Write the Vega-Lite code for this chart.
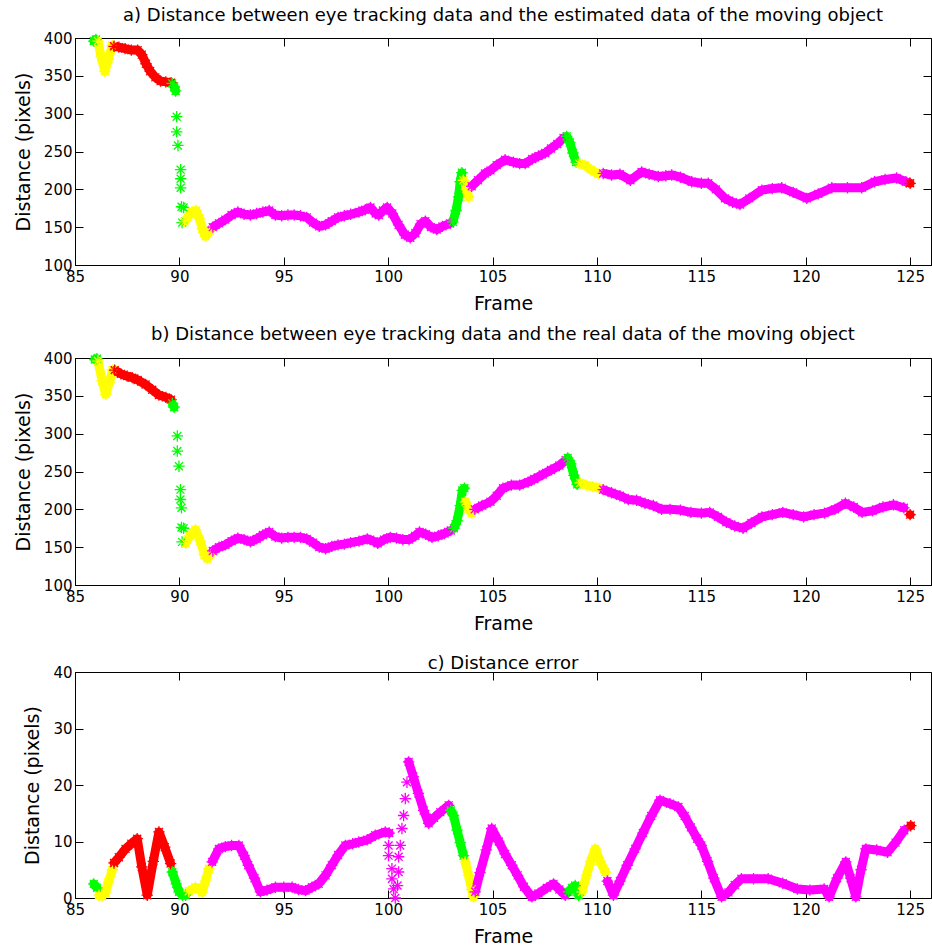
{
  "$schema": "https://vega.github.io/schema/vega-lite/v6.json",
  "background": "white",
  "padding": {"left": 13, "top": 6, "right": 0, "bottom": 0},
  "spacing": 20,
  "datasets": {
    "estimated": [
      {"frame": 85.9, "dist": 396, "state": "G", "run": 1},
      {"frame": 86.0, "dist": 398, "state": "G", "run": 1},
      {"frame": 86.1, "dist": 396, "state": "Y", "run": 2},
      {"frame": 86.25, "dist": 375, "state": "Y", "run": 2},
      {"frame": 86.43, "dist": 356, "state": "Y", "run": 2},
      {"frame": 86.6, "dist": 372, "state": "Y", "run": 2},
      {"frame": 86.78, "dist": 390, "state": "Y", "run": 2},
      {"frame": 86.87, "dist": 389, "state": "R", "run": 3},
      {"frame": 87.1, "dist": 388, "state": "R", "run": 3},
      {"frame": 87.4, "dist": 386, "state": "R", "run": 3},
      {"frame": 87.7, "dist": 384, "state": "R", "run": 3},
      {"frame": 88.0, "dist": 384, "state": "R", "run": 3},
      {"frame": 88.2, "dist": 378, "state": "R", "run": 3},
      {"frame": 88.4, "dist": 366, "state": "R", "run": 3},
      {"frame": 88.6, "dist": 356, "state": "R", "run": 3},
      {"frame": 88.85, "dist": 348, "state": "R", "run": 3},
      {"frame": 89.1, "dist": 343, "state": "R", "run": 3},
      {"frame": 89.35, "dist": 342, "state": "R", "run": 3},
      {"frame": 89.6, "dist": 341, "state": "R", "run": 3},
      {"frame": 89.65, "dist": 340, "state": "G", "run": 4},
      {"frame": 89.75, "dist": 336, "state": "G", "run": 4},
      {"frame": 89.82, "dist": 330, "state": "G", "run": 4},
      {"frame": 89.87, "dist": 296, "state": "G", "run": 0},
      {"frame": 89.87, "dist": 276, "state": "G", "run": 0},
      {"frame": 89.93, "dist": 258, "state": "G", "run": 0},
      {"frame": 90.06, "dist": 226, "state": "G", "run": 0},
      {"frame": 90.06, "dist": 214, "state": "G", "run": 0},
      {"frame": 90.06, "dist": 202, "state": "G", "run": 0},
      {"frame": 90.1, "dist": 177, "state": "G", "run": 0},
      {"frame": 90.2, "dist": 176, "state": "G", "run": 0},
      {"frame": 90.13, "dist": 156, "state": "G", "run": 0},
      {"frame": 90.25, "dist": 157, "state": "Y", "run": 5},
      {"frame": 90.4, "dist": 163, "state": "Y", "run": 5},
      {"frame": 90.6, "dist": 170, "state": "Y", "run": 5},
      {"frame": 90.8, "dist": 172, "state": "Y", "run": 5},
      {"frame": 90.95, "dist": 162, "state": "Y", "run": 5},
      {"frame": 91.1, "dist": 148, "state": "Y", "run": 5},
      {"frame": 91.25, "dist": 138, "state": "Y", "run": 5},
      {"frame": 91.45, "dist": 145, "state": "Y", "run": 5},
      {"frame": 91.6, "dist": 150, "state": "M", "run": 6},
      {"frame": 91.9, "dist": 155, "state": "M", "run": 6},
      {"frame": 92.2, "dist": 160, "state": "M", "run": 6},
      {"frame": 92.5, "dist": 166, "state": "M", "run": 6},
      {"frame": 92.8, "dist": 170, "state": "M", "run": 6},
      {"frame": 93.1, "dist": 167, "state": "M", "run": 6},
      {"frame": 93.4, "dist": 166, "state": "M", "run": 6},
      {"frame": 93.7, "dist": 168, "state": "M", "run": 6},
      {"frame": 94.0, "dist": 170, "state": "M", "run": 6},
      {"frame": 94.3, "dist": 172, "state": "M", "run": 6},
      {"frame": 94.6, "dist": 166, "state": "M", "run": 6},
      {"frame": 94.9, "dist": 165, "state": "M", "run": 6},
      {"frame": 95.2, "dist": 166, "state": "M", "run": 6},
      {"frame": 95.5, "dist": 166, "state": "M", "run": 6},
      {"frame": 95.8, "dist": 165, "state": "M", "run": 6},
      {"frame": 96.1, "dist": 163, "state": "M", "run": 6},
      {"frame": 96.4, "dist": 156, "state": "M", "run": 6},
      {"frame": 96.7, "dist": 151, "state": "M", "run": 6},
      {"frame": 97.0, "dist": 153, "state": "M", "run": 6},
      {"frame": 97.3, "dist": 158, "state": "M", "run": 6},
      {"frame": 97.6, "dist": 163, "state": "M", "run": 6},
      {"frame": 97.9, "dist": 165, "state": "M", "run": 6},
      {"frame": 98.2, "dist": 167, "state": "M", "run": 6},
      {"frame": 98.6, "dist": 170, "state": "M", "run": 6},
      {"frame": 98.9, "dist": 173, "state": "M", "run": 6},
      {"frame": 99.15, "dist": 176, "state": "M", "run": 6},
      {"frame": 99.4, "dist": 168, "state": "M", "run": 6},
      {"frame": 99.55, "dist": 166, "state": "M", "run": 6},
      {"frame": 99.75, "dist": 172, "state": "M", "run": 6},
      {"frame": 99.95, "dist": 176, "state": "M", "run": 6},
      {"frame": 100.2, "dist": 168, "state": "M", "run": 6},
      {"frame": 100.5, "dist": 153, "state": "M", "run": 6},
      {"frame": 100.8, "dist": 140, "state": "M", "run": 6},
      {"frame": 101.06, "dist": 136, "state": "M", "run": 6},
      {"frame": 101.3, "dist": 142, "state": "M", "run": 6},
      {"frame": 101.55, "dist": 154, "state": "M", "run": 6},
      {"frame": 101.78, "dist": 158, "state": "M", "run": 6},
      {"frame": 102.05, "dist": 150, "state": "M", "run": 6},
      {"frame": 102.33, "dist": 147, "state": "M", "run": 6},
      {"frame": 102.6, "dist": 151, "state": "M", "run": 6},
      {"frame": 102.97, "dist": 155, "state": "M", "run": 6},
      {"frame": 103.1, "dist": 157, "state": "G", "run": 7},
      {"frame": 103.25, "dist": 172, "state": "G", "run": 7},
      {"frame": 103.37, "dist": 190, "state": "G", "run": 7},
      {"frame": 103.45, "dist": 210, "state": "G", "run": 7},
      {"frame": 103.53, "dist": 222, "state": "G", "run": 7},
      {"frame": 103.6, "dist": 212, "state": "Y", "run": 8},
      {"frame": 103.75, "dist": 200, "state": "Y", "run": 8},
      {"frame": 103.85, "dist": 190, "state": "Y", "run": 8},
      {"frame": 104.0, "dist": 204, "state": "M", "run": 9},
      {"frame": 104.3, "dist": 212, "state": "M", "run": 9},
      {"frame": 104.64, "dist": 221, "state": "M", "run": 9},
      {"frame": 104.9, "dist": 225, "state": "M", "run": 9},
      {"frame": 105.2, "dist": 232, "state": "M", "run": 9},
      {"frame": 105.6, "dist": 239, "state": "M", "run": 9},
      {"frame": 106.0, "dist": 236, "state": "M", "run": 9},
      {"frame": 106.3, "dist": 234, "state": "M", "run": 9},
      {"frame": 106.56, "dist": 234, "state": "M", "run": 9},
      {"frame": 106.9, "dist": 240, "state": "M", "run": 9},
      {"frame": 107.2, "dist": 244, "state": "M", "run": 9},
      {"frame": 107.52, "dist": 248, "state": "M", "run": 9},
      {"frame": 107.8, "dist": 254, "state": "M", "run": 9},
      {"frame": 108.1, "dist": 260, "state": "M", "run": 9},
      {"frame": 108.4, "dist": 268, "state": "M", "run": 9},
      {"frame": 108.55, "dist": 270, "state": "G", "run": 10},
      {"frame": 108.7, "dist": 262, "state": "G", "run": 10},
      {"frame": 108.85, "dist": 248, "state": "G", "run": 10},
      {"frame": 109.0, "dist": 236, "state": "G", "run": 10},
      {"frame": 109.15, "dist": 234, "state": "Y", "run": 11},
      {"frame": 109.43, "dist": 232, "state": "Y", "run": 11},
      {"frame": 109.7, "dist": 226, "state": "Y", "run": 11},
      {"frame": 110.07, "dist": 220, "state": "Y", "run": 11},
      {"frame": 110.3, "dist": 221, "state": "M", "run": 12},
      {"frame": 110.7, "dist": 219, "state": "M", "run": 12},
      {"frame": 111.1, "dist": 220, "state": "M", "run": 12},
      {"frame": 111.6, "dist": 212, "state": "M", "run": 12},
      {"frame": 112.14, "dist": 223, "state": "M", "run": 12},
      {"frame": 112.5, "dist": 220, "state": "M", "run": 12},
      {"frame": 112.94, "dist": 217, "state": "M", "run": 12},
      {"frame": 113.3, "dist": 218, "state": "M", "run": 12},
      {"frame": 113.58, "dist": 219, "state": "M", "run": 12},
      {"frame": 114.0, "dist": 216, "state": "M", "run": 12},
      {"frame": 114.54, "dist": 210, "state": "M", "run": 12},
      {"frame": 115.0, "dist": 208, "state": "M", "run": 12},
      {"frame": 115.33, "dist": 208, "state": "M", "run": 12},
      {"frame": 115.7, "dist": 200, "state": "M", "run": 12},
      {"frame": 116.13, "dist": 188, "state": "M", "run": 12},
      {"frame": 116.5, "dist": 183, "state": "M", "run": 12},
      {"frame": 116.85, "dist": 180, "state": "M", "run": 12},
      {"frame": 117.3, "dist": 188, "state": "M", "run": 12},
      {"frame": 117.9, "dist": 199, "state": "M", "run": 12},
      {"frame": 118.4, "dist": 201, "state": "M", "run": 12},
      {"frame": 118.85, "dist": 202, "state": "M", "run": 12},
      {"frame": 119.4, "dist": 196, "state": "M", "run": 12},
      {"frame": 120.05, "dist": 188, "state": "M", "run": 12},
      {"frame": 120.6, "dist": 194, "state": "M", "run": 12},
      {"frame": 121.25, "dist": 202, "state": "M", "run": 12},
      {"frame": 122.0, "dist": 202, "state": "M", "run": 12},
      {"frame": 122.68, "dist": 202, "state": "M", "run": 12},
      {"frame": 123.3, "dist": 210, "state": "M", "run": 12},
      {"frame": 123.8, "dist": 213, "state": "M", "run": 12},
      {"frame": 124.35, "dist": 215, "state": "M", "run": 12},
      {"frame": 124.8, "dist": 210, "state": "M", "run": 12},
      {"frame": 125.0, "dist": 208, "state": "R", "run": 13}
    ],
    "real": [
      {"frame": 85.95, "dist": 398, "state": "G", "run": 1},
      {"frame": 86.05, "dist": 399, "state": "G", "run": 1},
      {"frame": 86.1, "dist": 396, "state": "Y", "run": 2},
      {"frame": 86.3, "dist": 370, "state": "Y", "run": 2},
      {"frame": 86.47, "dist": 352, "state": "Y", "run": 2},
      {"frame": 86.65, "dist": 368, "state": "Y", "run": 2},
      {"frame": 86.8, "dist": 384, "state": "Y", "run": 2},
      {"frame": 86.9, "dist": 384, "state": "R", "run": 3},
      {"frame": 87.2, "dist": 379, "state": "R", "run": 3},
      {"frame": 87.5, "dist": 376, "state": "R", "run": 3},
      {"frame": 87.74, "dist": 374, "state": "R", "run": 3},
      {"frame": 88.0, "dist": 371, "state": "R", "run": 3},
      {"frame": 88.38, "dist": 365, "state": "R", "run": 3},
      {"frame": 88.7, "dist": 358, "state": "R", "run": 3},
      {"frame": 89.02, "dist": 351, "state": "R", "run": 3},
      {"frame": 89.35, "dist": 348, "state": "R", "run": 3},
      {"frame": 89.6, "dist": 345, "state": "R", "run": 3},
      {"frame": 89.66, "dist": 340, "state": "G", "run": 4},
      {"frame": 89.75, "dist": 335, "state": "G", "run": 4},
      {"frame": 89.9, "dist": 297, "state": "G", "run": 0},
      {"frame": 89.9, "dist": 277, "state": "G", "run": 0},
      {"frame": 89.98, "dist": 257, "state": "G", "run": 0},
      {"frame": 90.05, "dist": 226, "state": "G", "run": 0},
      {"frame": 90.05, "dist": 213, "state": "G", "run": 0},
      {"frame": 90.1, "dist": 202, "state": "G", "run": 0},
      {"frame": 90.1, "dist": 176, "state": "G", "run": 0},
      {"frame": 90.2, "dist": 175, "state": "G", "run": 0},
      {"frame": 90.13, "dist": 157, "state": "G", "run": 0},
      {"frame": 90.3, "dist": 155, "state": "Y", "run": 5},
      {"frame": 90.5, "dist": 165, "state": "Y", "run": 5},
      {"frame": 90.77, "dist": 173, "state": "Y", "run": 5},
      {"frame": 91.0, "dist": 158, "state": "Y", "run": 5},
      {"frame": 91.2, "dist": 140, "state": "Y", "run": 5},
      {"frame": 91.33, "dist": 135, "state": "Y", "run": 5},
      {"frame": 91.5, "dist": 141, "state": "Y", "run": 5},
      {"frame": 91.6, "dist": 145, "state": "M", "run": 6},
      {"frame": 91.9, "dist": 150, "state": "M", "run": 6},
      {"frame": 92.2, "dist": 153, "state": "M", "run": 6},
      {"frame": 92.5, "dist": 158, "state": "M", "run": 6},
      {"frame": 92.8, "dist": 162, "state": "M", "run": 6},
      {"frame": 93.1, "dist": 160, "state": "M", "run": 6},
      {"frame": 93.4, "dist": 157, "state": "M", "run": 6},
      {"frame": 93.7, "dist": 161, "state": "M", "run": 6},
      {"frame": 94.0, "dist": 166, "state": "M", "run": 6},
      {"frame": 94.3, "dist": 170, "state": "M", "run": 6},
      {"frame": 94.6, "dist": 164, "state": "M", "run": 6},
      {"frame": 94.9, "dist": 162, "state": "M", "run": 6},
      {"frame": 95.2, "dist": 163, "state": "M", "run": 6},
      {"frame": 95.5, "dist": 163, "state": "M", "run": 6},
      {"frame": 95.8, "dist": 163, "state": "M", "run": 6},
      {"frame": 96.1, "dist": 161, "state": "M", "run": 6},
      {"frame": 96.4, "dist": 156, "state": "M", "run": 6},
      {"frame": 96.7, "dist": 150, "state": "M", "run": 6},
      {"frame": 97.0, "dist": 148, "state": "M", "run": 6},
      {"frame": 97.3, "dist": 151, "state": "M", "run": 6},
      {"frame": 97.6, "dist": 153, "state": "M", "run": 6},
      {"frame": 97.9, "dist": 154, "state": "M", "run": 6},
      {"frame": 98.2, "dist": 156, "state": "M", "run": 6},
      {"frame": 98.6, "dist": 158, "state": "M", "run": 6},
      {"frame": 99.0, "dist": 161, "state": "M", "run": 6},
      {"frame": 99.3, "dist": 158, "state": "M", "run": 6},
      {"frame": 99.5, "dist": 155, "state": "M", "run": 6},
      {"frame": 99.8, "dist": 160, "state": "M", "run": 6},
      {"frame": 100.1, "dist": 163, "state": "M", "run": 6},
      {"frame": 100.4, "dist": 162, "state": "M", "run": 6},
      {"frame": 100.7, "dist": 160, "state": "M", "run": 6},
      {"frame": 101.0, "dist": 160, "state": "M", "run": 6},
      {"frame": 101.3, "dist": 165, "state": "M", "run": 6},
      {"frame": 101.5, "dist": 170, "state": "M", "run": 6},
      {"frame": 101.8, "dist": 167, "state": "M", "run": 6},
      {"frame": 102.1, "dist": 163, "state": "M", "run": 6},
      {"frame": 102.4, "dist": 165, "state": "M", "run": 6},
      {"frame": 102.7, "dist": 168, "state": "M", "run": 6},
      {"frame": 103.0, "dist": 172, "state": "M", "run": 6},
      {"frame": 103.15, "dist": 175, "state": "G", "run": 7},
      {"frame": 103.3, "dist": 185, "state": "G", "run": 7},
      {"frame": 103.45, "dist": 205, "state": "G", "run": 7},
      {"frame": 103.55, "dist": 225, "state": "G", "run": 7},
      {"frame": 103.65, "dist": 228, "state": "G", "run": 7},
      {"frame": 103.7, "dist": 210, "state": "Y", "run": 8},
      {"frame": 103.85, "dist": 200, "state": "Y", "run": 8},
      {"frame": 104.0, "dist": 195, "state": "Y", "run": 8},
      {"frame": 104.15, "dist": 200, "state": "M", "run": 9},
      {"frame": 104.5, "dist": 205, "state": "M", "run": 9},
      {"frame": 104.9, "dist": 210, "state": "M", "run": 9},
      {"frame": 105.2, "dist": 218, "state": "M", "run": 9},
      {"frame": 105.5, "dist": 228, "state": "M", "run": 9},
      {"frame": 105.9, "dist": 232, "state": "M", "run": 9},
      {"frame": 106.3, "dist": 232, "state": "M", "run": 9},
      {"frame": 106.7, "dist": 236, "state": "M", "run": 9},
      {"frame": 107.0, "dist": 240, "state": "M", "run": 9},
      {"frame": 107.4, "dist": 246, "state": "M", "run": 9},
      {"frame": 107.8, "dist": 252, "state": "M", "run": 9},
      {"frame": 108.2, "dist": 258, "state": "M", "run": 9},
      {"frame": 108.5, "dist": 265, "state": "M", "run": 9},
      {"frame": 108.6, "dist": 268, "state": "G", "run": 10},
      {"frame": 108.75, "dist": 260, "state": "G", "run": 10},
      {"frame": 108.9, "dist": 245, "state": "G", "run": 10},
      {"frame": 109.05, "dist": 233, "state": "G", "run": 10},
      {"frame": 109.2, "dist": 235, "state": "Y", "run": 11},
      {"frame": 109.5, "dist": 232, "state": "Y", "run": 11},
      {"frame": 109.8, "dist": 230, "state": "Y", "run": 11},
      {"frame": 110.1, "dist": 228, "state": "Y", "run": 11},
      {"frame": 110.3, "dist": 226, "state": "M", "run": 12},
      {"frame": 110.7, "dist": 222, "state": "M", "run": 12},
      {"frame": 111.1, "dist": 218, "state": "M", "run": 12},
      {"frame": 111.5, "dist": 213, "state": "M", "run": 12},
      {"frame": 111.9, "dist": 212, "state": "M", "run": 12},
      {"frame": 112.3, "dist": 208, "state": "M", "run": 12},
      {"frame": 112.7, "dist": 205, "state": "M", "run": 12},
      {"frame": 113.1, "dist": 200, "state": "M", "run": 12},
      {"frame": 113.5, "dist": 200, "state": "M", "run": 12},
      {"frame": 114.0, "dist": 199, "state": "M", "run": 12},
      {"frame": 114.5, "dist": 196, "state": "M", "run": 12},
      {"frame": 115.0, "dist": 195, "state": "M", "run": 12},
      {"frame": 115.4, "dist": 196, "state": "M", "run": 12},
      {"frame": 115.8, "dist": 190, "state": "M", "run": 12},
      {"frame": 116.2, "dist": 183, "state": "M", "run": 12},
      {"frame": 116.6, "dist": 178, "state": "M", "run": 12},
      {"frame": 117.0, "dist": 175, "state": "M", "run": 12},
      {"frame": 117.4, "dist": 182, "state": "M", "run": 12},
      {"frame": 117.9, "dist": 190, "state": "M", "run": 12},
      {"frame": 118.4, "dist": 193, "state": "M", "run": 12},
      {"frame": 118.9, "dist": 196, "state": "M", "run": 12},
      {"frame": 119.4, "dist": 193, "state": "M", "run": 12},
      {"frame": 119.9, "dist": 190, "state": "M", "run": 12},
      {"frame": 120.4, "dist": 193, "state": "M", "run": 12},
      {"frame": 120.9, "dist": 195, "state": "M", "run": 12},
      {"frame": 121.4, "dist": 200, "state": "M", "run": 12},
      {"frame": 121.9, "dist": 208, "state": "M", "run": 12},
      {"frame": 122.3, "dist": 203, "state": "M", "run": 12},
      {"frame": 122.7, "dist": 196, "state": "M", "run": 12},
      {"frame": 123.2, "dist": 198, "state": "M", "run": 12},
      {"frame": 123.7, "dist": 203, "state": "M", "run": 12},
      {"frame": 124.2, "dist": 206, "state": "M", "run": 12},
      {"frame": 124.7, "dist": 202, "state": "M", "run": 12},
      {"frame": 125.0, "dist": 193, "state": "R", "run": 13}
    ],
    "error": [
      {"frame": 85.9, "dist": 2.5, "state": "G", "run": 1},
      {"frame": 86.05, "dist": 1.8, "state": "G", "run": 1},
      {"frame": 86.15, "dist": 0.5, "state": "Y", "run": 2},
      {"frame": 86.3, "dist": 0.3, "state": "Y", "run": 2},
      {"frame": 86.45, "dist": 0.9, "state": "Y", "run": 2},
      {"frame": 86.6, "dist": 2.8, "state": "Y", "run": 2},
      {"frame": 86.79, "dist": 5.0, "state": "Y", "run": 2},
      {"frame": 86.87, "dist": 6.2, "state": "R", "run": 3},
      {"frame": 87.1, "dist": 7.2, "state": "R", "run": 3},
      {"frame": 87.42, "dist": 8.7, "state": "R", "run": 3},
      {"frame": 87.7, "dist": 9.6, "state": "R", "run": 3},
      {"frame": 87.98, "dist": 10.5, "state": "R", "run": 3},
      {"frame": 88.2, "dist": 5.5, "state": "R", "run": 3},
      {"frame": 88.46, "dist": 0.5, "state": "R", "run": 3},
      {"frame": 88.75, "dist": 6.5, "state": "R", "run": 3},
      {"frame": 89.02, "dist": 11.7, "state": "R", "run": 3},
      {"frame": 89.3, "dist": 9.0, "state": "R", "run": 3},
      {"frame": 89.58, "dist": 6.1, "state": "R", "run": 3},
      {"frame": 89.66, "dist": 4.6, "state": "G", "run": 4},
      {"frame": 89.85, "dist": 2.5, "state": "G", "run": 4},
      {"frame": 89.98, "dist": 1.1, "state": "G", "run": 4},
      {"frame": 90.15, "dist": 0.5, "state": "G", "run": 4},
      {"frame": 90.3, "dist": 0.5, "state": "G", "run": 4},
      {"frame": 90.45, "dist": 1.2, "state": "Y", "run": 5},
      {"frame": 90.77, "dist": 1.9, "state": "Y", "run": 5},
      {"frame": 90.95, "dist": 1.5, "state": "Y", "run": 5},
      {"frame": 91.09, "dist": 1.0, "state": "Y", "run": 5},
      {"frame": 91.25, "dist": 3.0, "state": "Y", "run": 5},
      {"frame": 91.41, "dist": 5.2, "state": "Y", "run": 5},
      {"frame": 91.57, "dist": 6.4, "state": "M", "run": 6},
      {"frame": 91.89, "dist": 8.7, "state": "M", "run": 6},
      {"frame": 92.2, "dist": 9.1, "state": "M", "run": 6},
      {"frame": 92.5, "dist": 9.3, "state": "M", "run": 6},
      {"frame": 92.85, "dist": 9.3, "state": "M", "run": 6},
      {"frame": 93.1, "dist": 7.5, "state": "M", "run": 6},
      {"frame": 93.3, "dist": 5.8, "state": "M", "run": 6},
      {"frame": 93.6, "dist": 3.5, "state": "M", "run": 6},
      {"frame": 93.88, "dist": 1.1, "state": "M", "run": 6},
      {"frame": 94.2, "dist": 1.4, "state": "M", "run": 6},
      {"frame": 94.6, "dist": 1.9, "state": "M", "run": 6},
      {"frame": 95.0, "dist": 1.9, "state": "M", "run": 6},
      {"frame": 95.4, "dist": 1.9, "state": "M", "run": 6},
      {"frame": 95.7, "dist": 1.5, "state": "M", "run": 6},
      {"frame": 96.04, "dist": 1.3, "state": "M", "run": 6},
      {"frame": 96.35, "dist": 1.9, "state": "M", "run": 6},
      {"frame": 96.67, "dist": 2.5, "state": "M", "run": 6},
      {"frame": 97.0, "dist": 4.0, "state": "M", "run": 6},
      {"frame": 97.3, "dist": 5.8, "state": "M", "run": 6},
      {"frame": 97.6, "dist": 7.6, "state": "M", "run": 6},
      {"frame": 97.95, "dist": 9.3, "state": "M", "run": 6},
      {"frame": 98.3, "dist": 9.6, "state": "M", "run": 6},
      {"frame": 98.59, "dist": 9.9, "state": "M", "run": 6},
      {"frame": 99.0, "dist": 10.3, "state": "M", "run": 6},
      {"frame": 99.38, "dist": 11.1, "state": "M", "run": 6},
      {"frame": 99.86, "dist": 11.7, "state": "M", "run": 6},
      {"frame": 100.05, "dist": 11.5, "state": "M", "run": 6},
      {"frame": 100.02, "dist": 9.3, "state": "M", "run": 0},
      {"frame": 100.02, "dist": 7.5, "state": "M", "run": 0},
      {"frame": 100.18, "dist": 5.2, "state": "M", "run": 0},
      {"frame": 100.18, "dist": 3.4, "state": "M", "run": 0},
      {"frame": 100.26, "dist": 1.6, "state": "M", "run": 0},
      {"frame": 100.34, "dist": 0.0, "state": "M", "run": 0},
      {"frame": 100.45, "dist": 2.2, "state": "M", "run": 0},
      {"frame": 100.5, "dist": 4.6, "state": "M", "run": 0},
      {"frame": 100.5, "dist": 7.3, "state": "M", "run": 0},
      {"frame": 100.58, "dist": 9.3, "state": "M", "run": 0},
      {"frame": 100.66, "dist": 12.3, "state": "M", "run": 0},
      {"frame": 100.74, "dist": 14.6, "state": "M", "run": 0},
      {"frame": 100.82, "dist": 17.6, "state": "M", "run": 0},
      {"frame": 100.9, "dist": 20.5, "state": "M", "run": 0},
      {"frame": 100.98, "dist": 24.1, "state": "M", "run": 7},
      {"frame": 101.2, "dist": 21.5, "state": "M", "run": 7},
      {"frame": 101.45, "dist": 18.5, "state": "M", "run": 7},
      {"frame": 101.7, "dist": 15.5, "state": "M", "run": 7},
      {"frame": 101.94, "dist": 13.2, "state": "M", "run": 7},
      {"frame": 102.2, "dist": 14.2, "state": "M", "run": 7},
      {"frame": 102.5, "dist": 15.2, "state": "M", "run": 7},
      {"frame": 102.9, "dist": 16.4, "state": "M", "run": 7},
      {"frame": 103.0, "dist": 15.5, "state": "G", "run": 8},
      {"frame": 103.13, "dist": 14.6, "state": "G", "run": 8},
      {"frame": 103.3, "dist": 12.0, "state": "G", "run": 8},
      {"frame": 103.45, "dist": 9.8, "state": "G", "run": 8},
      {"frame": 103.61, "dist": 7.5, "state": "G", "run": 8},
      {"frame": 103.69, "dist": 6.4, "state": "Y", "run": 9},
      {"frame": 103.85, "dist": 4.0, "state": "Y", "run": 9},
      {"frame": 104.0, "dist": 1.5, "state": "Y", "run": 9},
      {"frame": 104.09, "dist": 0.2, "state": "Y", "run": 9},
      {"frame": 104.17, "dist": 1.1, "state": "M", "run": 10},
      {"frame": 104.4, "dist": 4.5, "state": "M", "run": 10},
      {"frame": 104.7, "dist": 8.5, "state": "M", "run": 10},
      {"frame": 104.96, "dist": 12.3, "state": "M", "run": 10},
      {"frame": 105.3, "dist": 10.0, "state": "M", "run": 10},
      {"frame": 105.6, "dist": 7.8, "state": "M", "run": 10},
      {"frame": 105.92, "dist": 5.8, "state": "M", "run": 10},
      {"frame": 106.2, "dist": 4.0, "state": "M", "run": 10},
      {"frame": 106.5, "dist": 2.0, "state": "M", "run": 10},
      {"frame": 106.88, "dist": 0.2, "state": "M", "run": 10},
      {"frame": 107.2, "dist": 0.8, "state": "M", "run": 10},
      {"frame": 107.6, "dist": 1.8, "state": "M", "run": 10},
      {"frame": 107.92, "dist": 2.5, "state": "M", "run": 10},
      {"frame": 108.2, "dist": 1.5, "state": "M", "run": 10},
      {"frame": 108.48, "dist": 0.5, "state": "M", "run": 10},
      {"frame": 108.64, "dist": 1.1, "state": "G", "run": 11},
      {"frame": 108.8, "dist": 1.8, "state": "G", "run": 11},
      {"frame": 108.96, "dist": 2.2, "state": "G", "run": 11},
      {"frame": 109.12, "dist": 0.5, "state": "G", "run": 11},
      {"frame": 109.28, "dist": 1.1, "state": "Y", "run": 12},
      {"frame": 109.5, "dist": 4.0, "state": "Y", "run": 12},
      {"frame": 109.7, "dist": 6.5, "state": "Y", "run": 12},
      {"frame": 109.92, "dist": 8.7, "state": "Y", "run": 12},
      {"frame": 110.15, "dist": 6.5, "state": "Y", "run": 12},
      {"frame": 110.4, "dist": 4.6, "state": "Y", "run": 12},
      {"frame": 110.5, "dist": 3.0, "state": "M", "run": 13},
      {"frame": 110.79, "dist": 0.5, "state": "M", "run": 13},
      {"frame": 111.1, "dist": 3.0, "state": "M", "run": 13},
      {"frame": 111.45, "dist": 5.8, "state": "M", "run": 13},
      {"frame": 111.83, "dist": 8.7, "state": "M", "run": 13},
      {"frame": 112.2, "dist": 11.5, "state": "M", "run": 13},
      {"frame": 112.6, "dist": 14.5, "state": "M", "run": 13},
      {"frame": 113.02, "dist": 17.3, "state": "M", "run": 13},
      {"frame": 113.5, "dist": 16.7, "state": "M", "run": 13},
      {"frame": 113.9, "dist": 16.1, "state": "M", "run": 13},
      {"frame": 114.2, "dist": 14.5, "state": "M", "run": 13},
      {"frame": 114.5, "dist": 12.5, "state": "M", "run": 13},
      {"frame": 114.8, "dist": 10.5, "state": "M", "run": 13},
      {"frame": 115.0, "dist": 9.3, "state": "M", "run": 13},
      {"frame": 115.3, "dist": 6.5, "state": "M", "run": 13},
      {"frame": 115.6, "dist": 3.5, "state": "M", "run": 13},
      {"frame": 115.97, "dist": 0.2, "state": "M", "run": 13},
      {"frame": 116.3, "dist": 1.0, "state": "M", "run": 13},
      {"frame": 116.6, "dist": 2.3, "state": "M", "run": 13},
      {"frame": 116.92, "dist": 3.4, "state": "M", "run": 13},
      {"frame": 117.5, "dist": 3.4, "state": "M", "run": 13},
      {"frame": 118.2, "dist": 3.4, "state": "M", "run": 13},
      {"frame": 118.9, "dist": 2.6, "state": "M", "run": 13},
      {"frame": 119.6, "dist": 1.6, "state": "M", "run": 13},
      {"frame": 120.2, "dist": 1.4, "state": "M", "run": 13},
      {"frame": 120.88, "dist": 1.6, "state": "M", "run": 13},
      {"frame": 121.12, "dist": 0.2, "state": "M", "run": 13},
      {"frame": 121.5, "dist": 3.5, "state": "M", "run": 13},
      {"frame": 121.92, "dist": 6.4, "state": "M", "run": 13},
      {"frame": 122.15, "dist": 3.5, "state": "M", "run": 13},
      {"frame": 122.4, "dist": 0.2, "state": "M", "run": 13},
      {"frame": 122.65, "dist": 5.0, "state": "M", "run": 13},
      {"frame": 122.88, "dist": 8.7, "state": "M", "run": 13},
      {"frame": 123.4, "dist": 8.5, "state": "M", "run": 13},
      {"frame": 123.92, "dist": 8.1, "state": "M", "run": 13},
      {"frame": 124.3, "dist": 9.8, "state": "M", "run": 13},
      {"frame": 124.72, "dist": 12.0, "state": "M", "run": 13},
      {"frame": 125.03, "dist": 12.8, "state": "R", "run": 14}
    ]
  },
  "vconcat": [
    {
      "spacing": 11,
      "vconcat": [
        {
          "title": {"text": "a) Distance between eye tracking data and the estimated data of the moving object", "offset": 6},
          "width": 856,
          "height": 227,
          "data": {"name": "estimated"},
          "layer": [
            {
              "transform": [{"filter": "datum.run > 0"}],
              "mark": {"type": "line", "strokeWidth": 9, "strokeCap": "round", "strokeJoin": "round"},
              "encoding": {
                "x": {"field": "frame", "type": "quantitative", "scale": {"domain": [85, 126], "nice": false}, "axis": {"title": "Frame", "values": [85, 90, 95, 100, 105, 110, 115, 120, 125]}},
                "y": {"field": "dist", "type": "quantitative", "scale": {"domain": [100, 400], "nice": false}, "axis": {"title": "Distance (pixels)", "values": [100, 150, 200, 250, 300, 350, 400]}},
                "color": {"field": "state", "type": "nominal", "scale": {"domain": ["G", "Y", "R", "M"], "range": ["#00ff00", "#ffff00", "#ff0000", "#ff00ff"]}, "legend": null},
                "detail": {"field": "run"},
                "order": {"field": "frame", "type": "quantitative"}
              }
            },
            {
              "mark": {"type": "point", "shape": "M-1,0H1M0,-1V1M-0.7,-0.7L0.7,0.7M-0.7,0.7L0.7,-0.7", "filled": false, "size": 130, "strokeWidth": 1.3, "opacity": 1},
              "encoding": {
                "x": {"field": "frame", "type": "quantitative", "axis": null},
                "y": {"field": "dist", "type": "quantitative", "axis": null},
                "color": {"field": "state", "type": "nominal", "legend": null}
              }
            },
            {
              "mark": {"type": "point", "opacity": 0},
              "encoding": {
                "x": {"field": "frame", "type": "quantitative", "axis": {"orient": "top", "labels": false, "title": null, "domain": false, "values": [85, 90, 95, 100, 105, 110, 115, 120, 125]}},
                "y": {"field": "dist", "type": "quantitative", "axis": {"orient": "right", "labels": false, "title": null, "domain": false, "values": [100, 150, 200, 250, 300, 350, 400]}}
              }
            }
          ],
          "resolve": {"axis": {"x": "independent", "y": "independent"}}
        },
        {
          "title": {"text": "b) Distance between eye tracking data and the real data of the moving object", "offset": 6},
          "width": 856,
          "height": 227,
          "data": {"name": "real"},
          "layer": [
            {
              "transform": [{"filter": "datum.run > 0"}],
              "mark": {"type": "line", "strokeWidth": 9, "strokeCap": "round", "strokeJoin": "round"},
              "encoding": {
                "x": {"field": "frame", "type": "quantitative", "scale": {"domain": [85, 126], "nice": false}, "axis": {"title": "Frame", "values": [85, 90, 95, 100, 105, 110, 115, 120, 125]}},
                "y": {"field": "dist", "type": "quantitative", "scale": {"domain": [100, 400], "nice": false}, "axis": {"title": "Distance (pixels)", "values": [100, 150, 200, 250, 300, 350, 400]}},
                "color": {"field": "state", "type": "nominal", "scale": {"domain": ["G", "Y", "R", "M"], "range": ["#00ff00", "#ffff00", "#ff0000", "#ff00ff"]}, "legend": null},
                "detail": {"field": "run"},
                "order": {"field": "frame", "type": "quantitative"}
              }
            },
            {
              "mark": {"type": "point", "shape": "M-1,0H1M0,-1V1M-0.7,-0.7L0.7,0.7M-0.7,0.7L0.7,-0.7", "filled": false, "size": 130, "strokeWidth": 1.3, "opacity": 1},
              "encoding": {
                "x": {"field": "frame", "type": "quantitative", "axis": null},
                "y": {"field": "dist", "type": "quantitative", "axis": null},
                "color": {"field": "state", "type": "nominal", "legend": null}
              }
            },
            {
              "mark": {"type": "point", "opacity": 0},
              "encoding": {
                "x": {"field": "frame", "type": "quantitative", "axis": {"orient": "top", "labels": false, "title": null, "domain": false, "values": [85, 90, 95, 100, 105, 110, 115, 120, 125]}},
                "y": {"field": "dist", "type": "quantitative", "axis": {"orient": "right", "labels": false, "title": null, "domain": false, "values": [100, 150, 200, 250, 300, 350, 400]}}
              }
            }
          ],
          "resolve": {"axis": {"x": "independent", "y": "independent"}}
        }
      ]
    },
    {
      "title": {"text": "c) Distance error", "offset": -8},
      "width": 856,
      "height": 226,
      "data": {"name": "error"},
      "layer": [
        {
          "transform": [{"filter": "datum.run > 0"}],
          "mark": {"type": "line", "strokeWidth": 9, "strokeCap": "round", "strokeJoin": "round"},
          "encoding": {
            "x": {"field": "frame", "type": "quantitative", "scale": {"domain": [85, 126], "nice": false}, "axis": {"title": "Frame", "values": [85, 90, 95, 100, 105, 110, 115, 120, 125]}},
            "y": {"field": "dist", "type": "quantitative", "scale": {"domain": [0, 40], "nice": false}, "axis": {"title": "Distance (pixels)", "values": [0, 10, 20, 30, 40]}},
            "color": {"field": "state", "type": "nominal", "scale": {"domain": ["G", "Y", "R", "M"], "range": ["#00ff00", "#ffff00", "#ff0000", "#ff00ff"]}, "legend": null},
            "detail": {"field": "run"},
            "order": {"field": "frame", "type": "quantitative"}
          }
        },
        {
          "mark": {"type": "point", "shape": "M-1,0H1M0,-1V1M-0.7,-0.7L0.7,0.7M-0.7,0.7L0.7,-0.7", "filled": false, "size": 130, "strokeWidth": 1.3, "opacity": 1},
          "encoding": {
            "x": {"field": "frame", "type": "quantitative", "axis": null},
            "y": {"field": "dist", "type": "quantitative", "axis": null},
            "color": {"field": "state", "type": "nominal", "legend": null}
          }
        },
        {
          "mark": {"type": "point", "opacity": 0},
          "encoding": {
            "x": {"field": "frame", "type": "quantitative", "axis": {"orient": "top", "labels": false, "title": null, "domain": false, "values": [85, 90, 95, 100, 105, 110, 115, 120, 125]}},
            "y": {"field": "dist", "type": "quantitative", "axis": {"orient": "right", "labels": false, "title": null, "domain": false, "values": [0, 10, 20, 30, 40]}}
          }
        }
      ],
      "resolve": {"axis": {"x": "independent", "y": "independent"}}
    }
  ],
  "config": {
    "view": {"stroke": "black", "strokeWidth": 1},
    "axis": {
      "grid": false,
      "domainColor": "black",
      "domainWidth": 1,
      "tickColor": "black",
      "tickSize": -8,
      "tickWidth": 1,
      "labelColor": "black",
      "labelFont": "DejaVu Sans",
      "labelFontSize": 15,
      "titleColor": "black",
      "titleFont": "DejaVu Sans",
      "titleFontSize": 19,
      "titleFontWeight": "normal",
      "labelFlush": false,
      "labelOverlap": false
    },
    "axisX": {"labelPadding": 12, "titlePadding": 10},
    "axisY": {"labelPadding": 11, "titlePadding": 10},
    "title": {"font": "DejaVu Sans", "fontSize": 18, "fontWeight": "normal", "color": "black"}
  }
}
